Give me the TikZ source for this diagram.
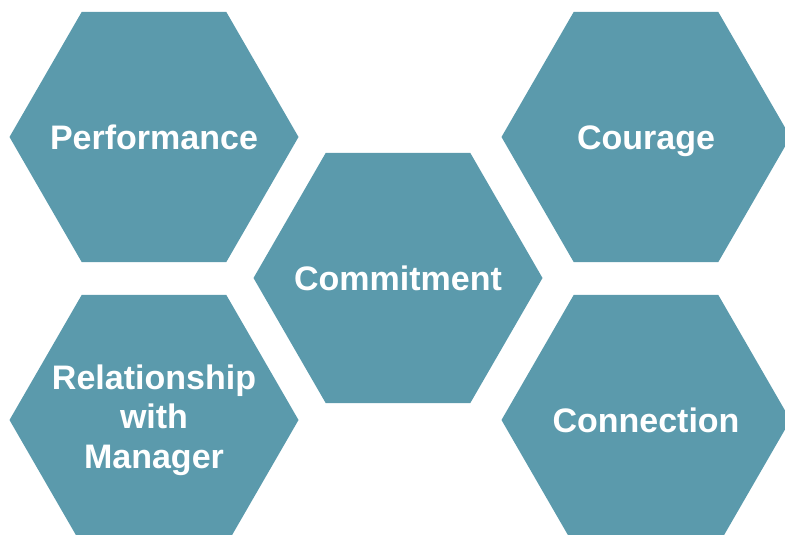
\documentclass[tikz,border=0pt]{standalone}
\usepackage{fontspec}
\setmainfont{Liberation Sans}
\usetikzlibrary{shapes.geometric}
\definecolor{hexteal}{RGB}{91,154,172}

\begin{document}
\begin{tikzpicture}[%
		x=1pt, y=-1pt,
		hexa/.style={regular polygon, regular polygon sides=6, minimum size=289pt,
			inner sep=0pt, fill=hexteal},
		word/.style={text=white, align=center,
			font=\fontsize{34}{39.5}\selectfont\bfseries},
		oneline/.style={word, text height=24pt, text depth=0pt}
		]
		% (785,535) canvas
		\useasboundingbox (0,0) rectangle (785,535);
		\clip (0,0) rectangle (785,535);
		%%%%%%%%%%%%%%%
		%    NODES    %
		%%%%%%%%%%%%%%%
		\node[hexa] (perf) at (154,137) {};
		\node[hexa] (cour) at (646,137) {};
		
		% centre
		\node[hexa] (comm) at (398,278) {};
		
		\node[hexa] (rel) at (154,420) {};
		\node[hexa] (conn) at (646,420) {};
		
		%%%%%%%%%%%%%%%
		%   LABELS    %
		%%%%%%%%%%%%%%%
		\node[oneline] (perf-t) at (perf) {Performance};
		\node[oneline] (cour-t) at (cour) {Courage};
		\node[oneline] (comm-t) at (comm) {Commitment};
		\node[word] (rel-t) at (rel) {Relationship\\with\\Manager};
		\node[oneline] (conn-t) at (conn) {Connection};
		
	\end{tikzpicture}
\end{document}
